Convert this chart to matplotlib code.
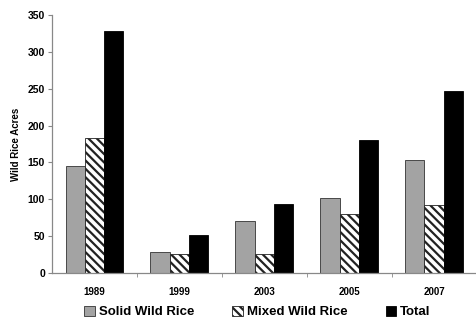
import matplotlib.pyplot as plt
import numpy as np

years = ['1989', '1999', '2003', '2005', '2007']
solid = [145, 28, 70, 101, 153]
mixed = [183, 25, 25, 80, 92]
total = [328, 52, 93, 180, 247]

plt.rcParams['font.family'] = 'Liberation Sans'
plt.rcParams['font.weight'] = 'bold'
plt.rcParams['hatch.linewidth'] = 1.6

fig = plt.figure(figsize=(4.77, 3.21), dpi=100)
ax = fig.add_axes([0.109, 0.15, 0.89, 0.803])

x = np.arange(len(years))
w = 0.227
ax.bar(x - w, solid, w, color='#a3a3a3', edgecolor='#333333', linewidth=0.6, label='Solid Wild Rice')
ax.bar(x, mixed, w, color='white', edgecolor='#222222', linewidth=0.6, hatch='\\\\\\\\', label='Mixed Wild Rice')
ax.bar(x + w, total, w, color='black', edgecolor='black', linewidth=0.6, label='Total')

ax.set_xlim(-0.5, len(years) - 0.5)
ax.set_ylim(0, 350)
ax.set_yticks(range(0, 351, 50))
ax.set_xticks(x)
ax.set_xticklabels(years)
ax.set_xticks(np.arange(0.5, len(years) - 1, 1), minor=True)
ax.tick_params(axis='x', which='major', length=0, labelsize=7, pad=10)
ax.tick_params(axis='x', which='minor', length=3, color='#888888')
ax.tick_params(axis='y', labelsize=7.5, length=3, color='#888888', pad=2)
for s in ['top', 'right']:
    ax.spines[s].set_visible(False)
for s in ['left', 'bottom']:
    ax.spines[s].set_color('#888888')
    ax.spines[s].set_linewidth(0.9)
ax.set_ylabel('Wild Rice Acres', fontsize=7, fontweight='bold', labelpad=5)

fig.legend(loc='center', ncol=3, frameon=False, fontsize=9.5,
           bbox_to_anchor=(0.54, 0.028), handlelength=0.8, handleheight=0.8,
           handletextpad=0.3, columnspacing=2.9)

fig.savefig('out.png', dpi=100)
